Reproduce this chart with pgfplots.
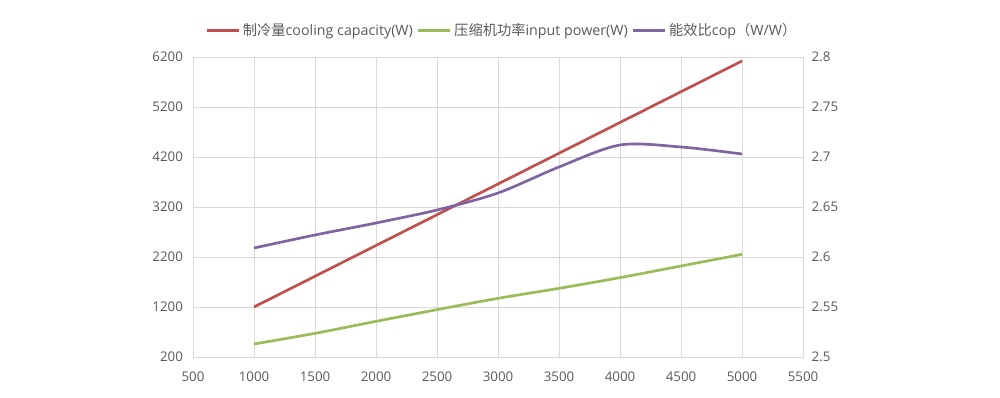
\documentclass[border=0pt]{standalone}
\usepackage{pgfplots}
\pgfplotsset{compat=1.18}
\usepackage{fontspec}
\setmainfont{Open Sans}
\newfontfamily\cjk{Noto Sans CJK SC}
\definecolor{cred}{RGB}{192,80,77}
\definecolor{cgreen}{RGB}{155,187,89}
\definecolor{cpurple}{RGB}{128,100,162}
\definecolor{ctext}{RGB}{89,89,89}
\definecolor{cgrid}{RGB}{217,217,217}
\begin{document}
\begin{tikzpicture}
\path[use as bounding box] (0pt,0pt) rectangle (750pt,298.5pt);
\pgfplotsset{
  base/.style={
    at={(144.75pt,30.75pt)}, anchor=south west,
    scale only axis, width=457.5pt, height=225pt,
    xmin=500, xmax=5500,
    major tick length=0pt,
    axis line style={cgrid},
    tick label style={font=\fontsize{10}{12}\selectfont, text=ctext},
    /pgf/number format/assume math mode=true,
    /pgf/number format/1000 sep={},
  }
}
\begin{axis}[base,
  xtick={500,1000,...,5500},
  ymin=200, ymax=6200,
  ytick={200,1200,2200,3200,4200,5200,6200},
  grid=major, grid style={cgrid, line width=0.6pt},
  xticklabel style={yshift=-7.5pt},
  yticklabel style={xshift=-4pt},
]
\addplot[cred, line width=2pt] coordinates {(1000,1200) (2000,2430) (3000,3660) (4000,4890) (5000,6120)};
\addplot[cgreen, line width=2pt, smooth] coordinates {(1000,460) (1500,673) (2000,913) (2500,1147) (3000,1373) (3500,1573) (4000,1787) (4500,2020) (5000,2253)};
\end{axis}
\begin{axis}[base,
  axis x line=none,
  axis y line*=right,
  ymin=2.5, ymax=2.8,
  ytick={2.5,2.55,...,2.8},
  yticklabel style={xshift=3pt},
  legend style={draw=none, fill=none, at={(0.507,1.088)}, anchor=center,
    font=\fontsize{10.7}{12}\selectfont, text=ctext,
    legend columns=3,
    /tikz/every even column/.append style={column sep=1pt},
    inner sep=0pt, nodes={inner sep=2pt}},
  legend image post style={line width=2pt},
  legend image code/.code={\draw[#1] (0pt,0pt) -- (24pt,0pt);},
]
\addlegendimage{cred}
\addlegendentry{{\cjk 制冷量}cooling capacity(W)}
\addlegendimage{cgreen}
\addlegendentry{{\cjk 压缩机功率}input power(W)}
\addplot[cpurple, line width=2pt, smooth] coordinates {(1000,2.609) (1500,2.622) (2000,2.634) (2500,2.647) (3000,2.664) (3500,2.690) (4000,2.712) (4500,2.710) (5000,2.703)};
\addlegendentry{{\cjk 能效比}cop{\cjk （}W/W{\cjk ）}}
\end{axis}
\end{tikzpicture}
\end{document}
